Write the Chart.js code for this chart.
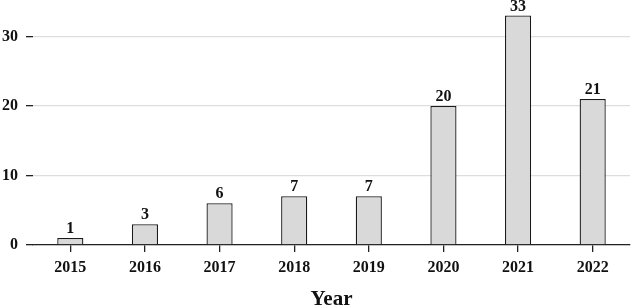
<!DOCTYPE html>
<html><head><meta charset="utf-8">
<script src="https://cdn.jsdelivr.net/npm/chart.js@4"></script>
<style>html,body{margin:0;padding:0;background:#fff}#w{width:634px;height:306px}</style>
</head><body><div id="w"><canvas id="c"></canvas></div>
<script>
const years = ['2015','2016','2017','2018','2019','2020','2021','2022'];
const counts = [1,3,6,7,7,20,33,21];
const yTicks = [0,10,20,30];

const FONT = '"Liberation Serif", serif';

const labelPlugin = {
  id: 'barLabels',
  afterDatasetsDraw(chart) {
    const ctx = chart.ctx;
    const meta = chart.getDatasetMeta(0);
    ctx.save();
    ctx.font = 'bold 16px ' + FONT;
    ctx.fillStyle = '#111';
    ctx.textAlign = 'center';
    ctx.textBaseline = 'bottom';
    meta.data.forEach((bar, i) => {
      ctx.fillText(String(counts[i]), bar.x, bar.y - 1);
    });
    ctx.restore();
  }
};

new Chart(document.getElementById('c'), {
  type: 'bar',
  data: {
    labels: years,
    datasets: [{
      data: counts,
      backgroundColor: '#d9d9d9',
      borderColor: '#1a1a1a',
      borderWidth: 1.3,
      barPercentage: 0.35,
      categoryPercentage: 1.0,
      clip: false
    }]
  },
  options: {
    responsive: true,
    maintainAspectRatio: false,
    animation: false,
    layout: { padding: { top: 0, right: 4, left: -6, bottom: -2 } },
    plugins: { legend: { display: false }, tooltip: { enabled: false } },
    scales: {
      x: {
        grid: { display: true, offset: false, drawOnChartArea: false, color: '#222', tickLength: 7, lineWidth: 1.3 },
        border: { display: true, color: '#222', width: 1.3 },
        ticks: { color: '#111', font: { family: FONT, size: 16, weight: 'bold' }, padding: 6 },
        title: { display: true, text: 'Year', color: '#111', font: { family: FONT, size: 21, weight: 'bold', lineHeight: 0.8 }, padding: { top: 8, bottom: 0 } }
      },
      y: {
        min: 0, max: 32.7,
        afterBuildTicks(axis) { axis.ticks = yTicks.map(v => ({ value: v })); },
        grid: { color: '#dddddd', tickColor: '#222', tickLength: 7, lineWidth: 1.3 },
        border: { display: false },
        ticks: { color: '#111', font: { family: FONT, size: 16, weight: 'bold' }, padding: 8 }
      }
    }
  },
  plugins: [labelPlugin]
});
</script></body></html>
